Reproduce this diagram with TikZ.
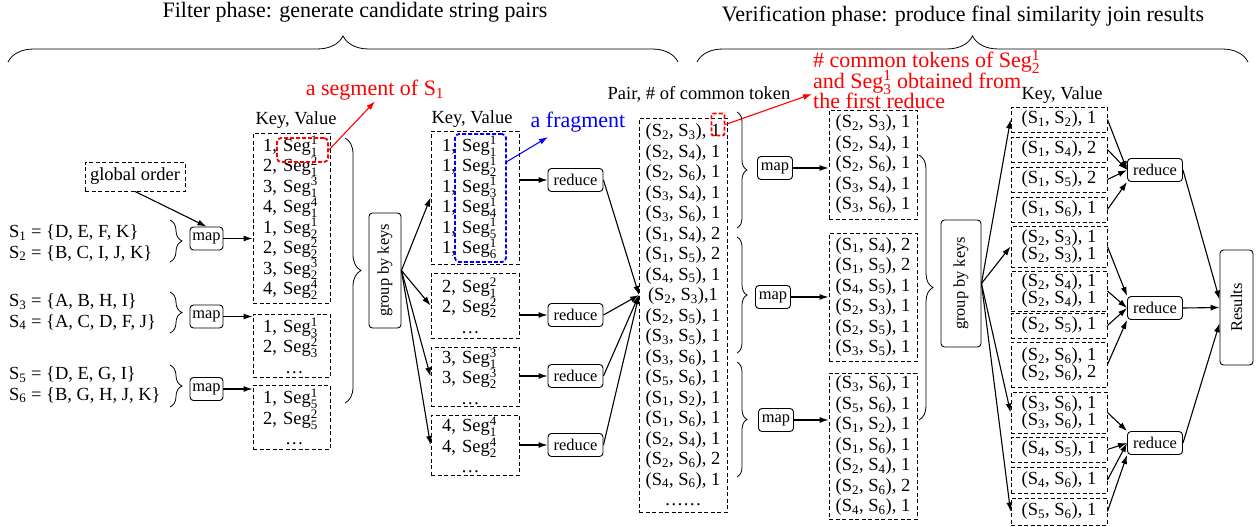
\documentclass[tikz,border=0pt]{standalone}
\usepackage{fontspec}
\setmainfont{Liberation Serif}
\usepackage{amsmath}
\usetikzlibrary{positioning,arrows.meta,decorations.pathreplacing}

\newcommand{\sset}[1]{S\ensuremath{_{\text{#1}}}}
\newcommand{\segv}[2]{Seg\ensuremath{^{\text{#1}}_{\text{#2}}}}
\newcommand{\pairv}[3]{(\sset{#1}, \sset{#2}), #3}
\newcommand{\listfont}{\fontsize{18.5}{20.5}\selectfont\lineskiplimit -30pt\relax}
\newcommand{\tightfont}{\fontsize{18.5}{17}\selectfont\lineskiplimit -30pt\relax}
\newcommand{\notefont}{\fontsize{22}{20.5}\selectfont\lineskiplimit -30pt\relax}

\tikzset{
  listbox/.style={draw, dash pattern=on 4pt off 2.5pt, line width=0.9pt, align=center, inner sep=0pt},
  segbox/.style={listbox, align=left, text width=#1},
  opbox/.style={draw, rounded corners=3.5pt, line width=0.9pt, font=\fontsize{16.4}{18}\selectfont, minimum height=23, inner sep=1.5pt},
  notetext/.style={font=\notefont},
  markbox/.style={draw, dash pattern=on 4pt off 2pt, line width=1.8pt, rounded corners=4pt},
  brc/.style={decorate, decoration={brace, amplitude=#1}, line width=0.8pt},
  brc/.default=10,
  flow/.style={-{Latex[length=9pt,width=6pt]}, line width=1.1pt},
}

\begin{document}
\begin{tikzpicture}[x=1pt, y=-1pt, every node/.style={font=\listfont, inner sep=1pt}]
\useasboundingbox (0,0) rectangle (1260,527);

% Phase titles
\node[notetext] (ftitle) at (355,12) {Filter phase: generate candidate string pairs};
\node[notetext] (vtitle) at (963,16) {Verification phase: produce final similarity join results};
\draw[brc=26] (8,62) -- (678,62);
\draw[brc=26] (697,62) -- (1248,62);

% Input strings and first map
\node[align=left, anchor=west] (s12) at (8,243) {\sset{1} = \{D, E, F, K\}\\\sset{2} = \{B, C, I, J, K\}};
\node[align=left, anchor=west] (s34) at (8,312) {\sset{3} = \{A, B, H, I\}\\\sset{4} = \{A, C, D, F, J\}};
\node[align=left, anchor=west] (s56) at (8,385) {\sset{5} = \{D, E, G, I\}\\\sset{6} = \{B, G, H, J, K\}};
\draw[brc=12] (170,220) -- (170,262);
\draw[brc=12] (170,292) -- (170,333);
\draw[brc=12] (170,365) -- (170,407);

\node[listbox, minimum width=100, minimum height=29] (glob) at (135,176.5) {global order};
\node[opbox, minimum width=33] (m1) at (206.5,238.5) {map};
\node[opbox, minimum width=33] (m2) at (206.5,316.5) {map};
\node[opbox, minimum width=33] (m3) at (206.5,389) {map};

% Segments
\node (seglbl) at (296,120) {Key, Value};
\node[segbox=57, minimum width=77, minimum height=170] (sa) at (291.5,218)
  {1, \segv{1}{1}\\2, \segv{2}{1}\\3, \segv{3}{1}\\4, \segv{4}{1}\\1, \segv{1}{2}\\2, \segv{2}{2}\\3, \segv{3}{2}\\4, \segv{4}{2}};
\node[segbox=57, minimum width=77, minimum height=63] (sb) at (291.5,345.5) {1, \segv{1}{3}\\2, \segv{2}{3}\\\hspace*{22pt}\dots};
\node[segbox=57, minimum width=77, minimum height=64] (sc) at (291.5,417) {1, \segv{1}{5}\\2, \segv{2}{5}\\\hspace*{22pt}\dots};
\node[markbox, red, minimum width=51, minimum height=24] (segmk) at (302.5,150) {};
\node[notetext, text=red] (segtxt) at (375,90) {a segment of \sset{1}};

\draw[flow] (glob.south) -- (m1.north);
\draw[flow] (m1.east) -- (m1.east -| sa.west);
\draw[flow] (m2.east) -- (m2.east -| sb.west);
\draw[flow] (m3.east) -- (m3.east -| sc.west);
\draw[flow, red] (segmk.east) -- (segtxt.south);

% Group by keys and reduce
\draw[brc=16] (345,138) -- (345,403);
\node[opbox, minimum width=32, minimum height=115] (grp1) at (385,270.5) {\rotatebox{90}{group by keys}};

\node (keylbl) at (472,119) {Key, Value};
\node[segbox=66, minimum width=88, minimum height=133] (ka) at (475,197.5)
  {1, \segv{1}{1}\\1, \segv{1}{2}\\1, \segv{1}{3}\\1, \segv{1}{4}\\1, \segv{1}{5}\\1, \segv{1}{6}};
\node[segbox=66, minimum width=88, minimum height=65] (kb) at (475,305.5) {2, \segv{2}{1}\\2, \segv{2}{2}\\\hspace*{19pt}\dots};
\node[segbox=66, minimum width=88, minimum height=59] (kc) at (475,376.5) {3, \segv{3}{1}\\3, \segv{3}{2}\\\hspace*{19pt}\dots};
\node[segbox=66, minimum width=88, minimum height=60] (kd) at (475,445) {4, \segv{4}{1}\\4, \segv{4}{2}\\\hspace*{19pt}\dots};
\node[markbox, blue, minimum width=51, minimum height=128] (frag) at (480.5,198) {};
\node[notetext, text=blue] (fragtxt) at (578,122) {a fragment};
\coordinate (fragtip) at (548,137);
\draw[flow, blue] (frag.54) -- (fragtip);

\draw[flow] (grp1.east) -- (ka.west);
\draw[flow] (grp1.east) -- (kb.west);
\draw[flow] (grp1.east) -- (kc.west);
\draw[flow] (grp1.east) -- (kd.west);

\node[opbox, minimum width=55] (r1) at (575.5,180) {reduce};
\node[opbox, minimum width=55] (r2) at (575.5,315) {reduce};
\node[opbox, minimum width=55] (r3) at (575.5,376) {reduce};
\node[opbox, minimum width=55] (r4) at (575.5,445) {reduce};
\draw[flow] (r1 -| ka.east) -- (r1.west);
\draw[flow] (r2 -| kb.east) -- (r2.west);
\draw[flow] (r3 -| kc.east) -- (r3.west);
\draw[flow] (r4 -| kd.east) -- (r4.west);

% Candidate pairs
\node (pairlbl) at (699,94) {Pair, \# of common token};
\node[listbox, minimum width=88, minimum height=394] (pairs) at (683,315)
  {\pairv{2}{3}{1}\\\pairv{2}{4}{1}\\\pairv{2}{6}{1}\\\pairv{3}{4}{1}\\\pairv{3}{6}{1}\\\pairv{1}{4}{2}\\
   \pairv{1}{5}{2}\\\pairv{4}{5}{1}\\(\sset{2}, \sset{3}),1\\\pairv{2}{5}{1}\\\pairv{3}{5}{1}\\\pairv{3}{6}{1}\\
   \pairv{5}{6}{1}\\\pairv{1}{2}{1}\\\pairv{1}{6}{1}\\\pairv{2}{4}{1}\\\pairv{2}{6}{2}\\\pairv{4}{6}{1}\\\dots\dots};
\coordinate (pin) at (639,295);
\draw[flow] (r1.east) -- (pin);
\draw[flow] (r2.east) -- (pin);
\draw[flow] (r3.east) -- (pin);
\draw[flow] (r4.east) -- (pin);

\node[markbox, red, minimum width=13, minimum height=22, rounded corners=2pt] (cnt) at (718,124.5) {};
\node[notetext, text=red, align=left, anchor=west] (cnttxt) at (812,79.5)
  {\# common tokens of \segv{1}{2}\\and \segv{1}{3} obtained from\\the first reduce};
\coordinate (cnttip) at (812,94);
\draw[flow, red] (cnt.east) -- (cnttip);

% Second map
\draw[brc] (737,112) -- (737,228);
\draw[brc] (737,237) -- (737,353);
\draw[brc] (737,362) -- (737,477);
\node[opbox, minimum width=35] (mp1) at (775,168) {map};
\node[opbox, minimum width=35] (mp2) at (773,297) {map};
\node[opbox, minimum width=35] (mp3) at (776,420) {map};

\node[listbox, minimum width=88, minimum height=109] (pa) at (873,164.5)
  {\pairv{2}{3}{1}\\\pairv{2}{4}{1}\\\pairv{2}{6}{1}\\\pairv{3}{4}{1}\\\pairv{3}{6}{1}};
\node[listbox, minimum width=88, minimum height=128] (pb) at (873,297)
  {\pairv{1}{4}{2}\\\pairv{1}{5}{2}\\\pairv{4}{5}{1}\\\pairv{2}{3}{1}\\\pairv{2}{5}{1}\\\pairv{3}{5}{1}};
\node[listbox, minimum width=88, minimum height=146] (pc) at (873,446)
  {\pairv{3}{6}{1}\\\pairv{5}{6}{1}\\\pairv{1}{2}{1}\\\pairv{1}{6}{1}\\\pairv{2}{4}{1}\\\pairv{2}{6}{2}\\\pairv{4}{6}{1}};
\draw[flow] (mp1.east) -- (mp1.east -| pa.west);
\draw[flow] (mp2.east) -- (mp2.east -| pb.west);
\draw[flow] (mp3.east) -- (mp3.east -| pc.west);

% Final grouping and reduce
\draw[brc=14] (919,155) -- (919,420);
\node[opbox, minimum width=40, minimum height=127] (grp2) at (961,283.5) {\rotatebox{90}{group by keys}};

\node (reslbl) at (1062,95) {Key, Value};
\node[listbox, minimum width=96, minimum height=25] (q1) at (1059,119.5) {\pairv{1}{2}{1}};
\node[listbox, minimum width=96, minimum height=25] (q2) at (1059,149.5) {\pairv{1}{4}{2}};
\node[listbox, minimum width=96, minimum height=25] (q3) at (1059,179.5) {\pairv{1}{5}{2}};
\node[listbox, minimum width=96, minimum height=25] (q4) at (1059,209.5) {\pairv{1}{6}{1}};
\node[listbox, minimum width=96, minimum height=41, font=\tightfont] (q5) at (1059,246.5) {\pairv{2}{3}{1}\\\pairv{2}{3}{1}};
\node[listbox, minimum width=96, minimum height=40, font=\tightfont] (q6) at (1059,291) {\pairv{2}{4}{1}\\\pairv{2}{4}{1}};
\node[listbox, minimum width=96, minimum height=25] (q7) at (1059,325.5) {\pairv{2}{5}{1}};
\node[listbox, minimum width=96, minimum height=45, font=\tightfont] (q8) at (1059,364.5) {\pairv{2}{6}{1}\\\pairv{2}{6}{2}};
\node[listbox, minimum width=96, minimum height=41, font=\tightfont] (q9) at (1059,412.5) {\pairv{3}{6}{1}\\\pairv{3}{6}{1}};
\node[listbox, minimum width=96, minimum height=25] (q10) at (1059,449.5) {\pairv{4}{5}{1}};
\node[listbox, minimum width=96, minimum height=26] (q11) at (1059,480) {\pairv{4}{6}{1}};
\node[listbox, minimum width=96, minimum height=27] (q12) at (1059,511.5) {\pairv{5}{6}{1}};

\draw[flow] (grp2.east) -- (q1.west);
\draw[flow] (grp2.east) -- (q5.west);
\draw[flow] (grp2.east) -- (q9.west);
\draw[flow] (grp2.east) -- (q12.west);

\node[opbox, minimum width=55] (rr1) at (1155,170) {reduce};
\node[opbox, minimum width=55] (rr2) at (1155,308) {reduce};
\node[opbox, minimum width=55] (rr3) at (1155,443) {reduce};
\node[opbox, minimum width=33, minimum height=115] (res) at (1236.5,307.5) {\rotatebox{90}{Results}};

\draw[flow] (q1.east) -- (rr1.west);
\draw[flow] (q2.east) -- (rr1.west);
\draw[flow] (q3.east) -- (rr1.west);
\draw[flow] (q4.east) -- (rr1.south west);
\draw[flow] (q5.east) -- (rr2.north west);
\draw[flow] (q6.east) -- (rr2.west);
\draw[flow] (q7.east) -- (rr2.west);
\draw[flow] (q8.east) -- (rr2.south west);
\draw[flow] (q9.east) -- (rr3.north west);
\draw[flow] (q10.east) -- (rr3.west);
\draw[flow] (q11.east) -- (rr3.west);
\draw[flow] (q12.east) -- (rr3.south west);

\draw[flow] (rr1.east) -- (res.155);
\draw[flow] (rr2.east) -- (res.west);
\draw[flow] (rr3.east) -- (res.223);
\end{tikzpicture}
\end{document}
